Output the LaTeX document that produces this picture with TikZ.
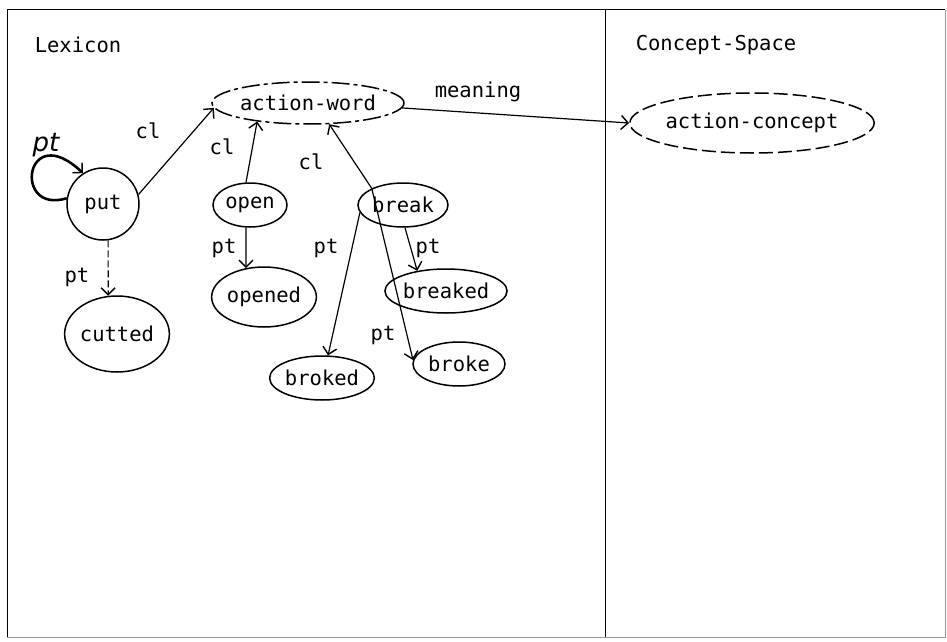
\documentclass[tikz,border=0pt]{standalone}
\usepackage{fontspec}
\newfontfamily\plotfont{DejaVu Sans Mono}
\newfontfamily\handfont{DejaVu Sans}
\usetikzlibrary{shapes.geometric,arrows.meta}
\tikzset{
  txt/.style={font=\plotfont\fontsize{20.5}{23}\selectfont, inner sep=0pt},
  ell/.style={ellipse, draw, line width=1.5pt, inner sep=0pt, txt},
  arr/.style={line width=1.2pt, -{Straight Barb[length=7pt,width=14pt,line width=1.4pt]}},
  frame/.style={line width=1pt}
}
\begin{document}
\begin{tikzpicture}[x=1pt,y=-1pt]
\useasboundingbox[fill=white] (0,0) rectangle (947,642);
% frame
\draw[frame] (7,637) -- (7,10) -- (945,10);
\draw[frame, black!40] (945,10) -- (945,637) -- (7,637);
\draw[frame] (605,10) -- (605,637);
% titles
\node[txt] (lex) at (78,45) {Lexicon};
\node[txt] (cs) at (716,45) {Concept-Space};
% nodes
\node[ell, minimum width=190pt, minimum height=42pt, dash pattern=on 18pt off 4pt on 4pt off 4pt] (aw) at (308,103) {action-word};
\node[ell, minimum width=234pt, minimum height=60pt, dash pattern=on 14pt off 5pt] (ac) at (752,123) {action-concept};
\node[circle, draw, line width=1.5pt, minimum size=72pt, inner sep=0pt, txt] (put) at (103,204) {put};
\node[ell, minimum width=74pt, minimum height=44pt] (open) at (250,205) {open};
\node[ell, minimum width=90pt, minimum height=44pt] (break) at (403,205) {break};
\node[ell, minimum width=104pt, minimum height=76pt] (cutted) at (117,334) {cutted};
\node[ell, minimum width=102pt, minimum height=60pt] (opened) at (264,297) {opened};
\node[ell, minimum width=118pt, minimum height=44pt] (breaked) at (446,291) {breaked};
\node[ell, minimum width=104pt, minimum height=44pt] (broked) at (322,378) {broked};
\node[ell, minimum width=92pt, minimum height=44pt] (broke) at (459,364) {broke};
% connectors
\draw[arr] (put.15) -- (aw.183);
\draw[arr] (open.100) -- (aw.-160);
\draw[arr] (break.152) -- (aw.-45);
\draw[arr] (aw.-3) -- (ac.west);
\draw[arr, line width=2.6pt] (put.171) .. controls (12,215) and (25,118) .. (put.123);
\draw[arr, dash pattern=on 7pt off 3pt] (put.-82) -- (cutted.103);
\draw[arr] (open.260) -- (opened.122);
\draw[arr] (break.190) -- (broked.75);
\draw[arr] (break.-85) -- (breaked.145);
\draw[arr] (break.152) -- (broke.175);
% labels
\node[txt] (l1) at (148,131) {cl};
\node[txt] (l2) at (222,147) {cl};
\node[txt] (l3) at (311,162) {cl};
\node[font=\handfont\itshape\fontsize{26}{28}\selectfont, inner sep=0pt] (l4) at (46,145) {pt};
\node[txt] (l5) at (77,277) {pt};
\node[txt] (l6) at (224,248) {pt};
\node[txt] (l7) at (326,248) {pt};
\node[txt] (l8) at (428,248) {pt};
\node[txt] (l9) at (383,335) {pt};
\node[txt] (l10) at (478,92) {meaning};
\end{tikzpicture}
\end{document}
